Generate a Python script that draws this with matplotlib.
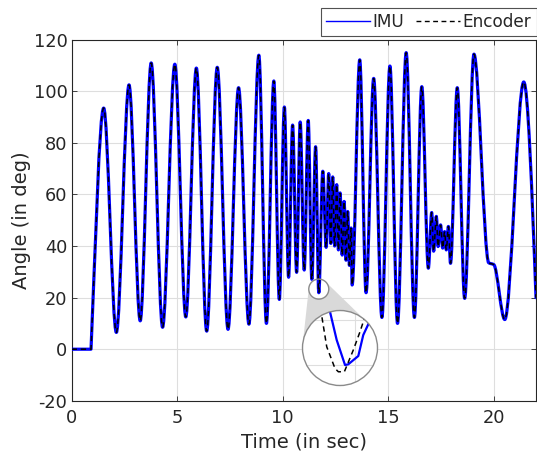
import numpy as np
import matplotlib
matplotlib.use("Agg")
import matplotlib.pyplot as plt
from matplotlib.path import Path
from matplotlib.patches import PathPatch, Circle, Polygon
from matplotlib.lines import Line2D
from matplotlib.transforms import IdentityTransform

# ---------------- data (turning points) ----------------
time_pts = [0.00, 0.92, 1.52, 2.12, 2.72, 3.25, 3.77, 4.31, 4.89, 5.41, 5.91, 6.40,
            6.90, 7.41, 7.91, 8.40, 8.87, 9.23, 9.58, 9.84, 10.08, 10.28, 10.47, 10.66,
            10.83, 11.02, 11.21, 11.38, 11.56, 11.71, 11.90, 12.06, 12.18, 12.28, 12.37,
            12.46, 12.56, 12.64, 12.72, 12.82, 12.91, 13.00, 13.08, 13.16, 13.24, 13.29,
            13.65, 13.95, 14.31, 14.70, 15.08, 15.44, 15.85, 16.24, 16.59, 16.90, 17.06,
            17.15, 17.28, 17.36, 17.48, 17.58, 17.67, 17.75, 17.85, 17.95, 18.27, 18.62,
            19.06, 19.76, 20.00, 20.52, 21.42, 22.00]
imu_angle = [0, 0, 93.5, 6.5, 102.5, 11.0, 111.0, 8.5, 110.5, 12.5, 109.0, 7.0,
             109.3, 7.7, 101.4, 9.7, 114.0, 10.0, 104.0, 19.3, 93.9, 27.9, 86.9, 29.8,
             88.1, 30.7, 88.7, 27.1, 78.5, 21.9, 69.0, 39.5, 68.1, 41.0, 66.8,
             40.0, 63.8, 38.5, 60.6, 36.5, 57.3, 34.5, 53.4, 32.5, 47.0, 24.9,
             112.2, 21.9, 105.0, 12.3, 109.8, 10.0, 115.0, 12.3, 101.8, 31.4, 53.0,
             38.0, 51.5, 39.8, 48.2, 39.2, 45.6, 38.5, 47.6, 33.3, 101.4, 19.7,
             114.4, 33.5, 32.8, 11.5, 103.6, 20.0]
encoder_angle = list(imu_angle)

# magnified view of the dip near t = 11.7 s
inset_t_imu = [11.684, 11.6956, 11.7067, 11.711, 11.7244, 11.731, 11.7387, 11.744]
inset_imu = [22.74, 21.11, 20.00, 20.03, 20.40, 21.33, 21.88, 22.30]
inset_t_enc = [11.674, 11.6823, 11.6933, 11.6978, 11.7058, 11.7178, 11.7267, 11.7333, 11.7356]
inset_enc = [22.52, 20.81, 19.85, 19.70, 19.70, 20.67, 21.48, 22.15, 22.45]
inset_xlim = (11.65, 11.75)
inset_ylim = (19.09, 22.42)
inset_grid_y = [20, 22]
inset_grid_x = [11.72]
zoom_focus = (11.71, 23.3)

x_ticks = [0, 5, 10, 15, 20]
y_ticks = [-20, 0, 20, 40, 60, 80, 100, 120]
series_labels = ["IMU", "Encoder"]


def smooth_path(x, y):
    x = np.asarray(x, float)
    y = np.asarray(y, float)
    h = np.diff(x)
    d = np.diff(y) / h
    n = len(x)
    mL = np.zeros(n)  # slope arriving at a point
    mR = np.zeros(n)  # slope leaving a point
    for k in range(1, n - 1):
        if d[k - 1] == 0 and d[k] != 0:
            mL[k] = 0.0
            mR[k] = 1.2 * d[k]
        elif d[k - 1] * d[k] > 0:
            w1 = 2 * h[k] + h[k - 1]
            w2 = h[k] + 2 * h[k - 1]
            mL[k] = mR[k] = (w1 + w2) / (w1 / d[k - 1] + w2 / d[k])
    mL[-1] = 1.5 * d[-1]
    verts = [(x[0], y[0])]
    codes = [Path.MOVETO]
    for k in range(n - 1):
        verts += [(x[k] + h[k] / 3, y[k] + mR[k] * h[k] / 3),
                  (x[k + 1] - h[k] / 3, y[k + 1] - mL[k + 1] * h[k] / 3),
                  (x[k + 1], y[k + 1])]
        codes += [Path.CURVE4] * 3
    return Path(verts, codes)


TXT = "#262626"
GRID = "#dedede"
plt.rcParams["font.family"] = ["DejaVu Sans"]
plt.rcParams["axes.unicode_minus"] = False

W, H = 537, 458
fig = plt.figure(figsize=(W / 100, H / 100), dpi=100)
ax = fig.add_axes([71.6 / W, 1 - 400.8 / H, (536.0 - 71.6) / W, (400.8 - 39.7) / H])
ax.set_xlim(0, 22)
ax.set_ylim(-20, 120)
ax.set_xticks(x_ticks)
ax.set_yticks(y_ticks)
ax.grid(True, color=GRID, lw=0.8)
ax.set_axisbelow(True)
ax.tick_params(direction="in", length=3.5, width=0.6, top=True, right=True,
               colors=TXT, labelsize=12.8, labelcolor=TXT)
ax.tick_params(axis="x", pad=6)
ax.tick_params(axis="y", pad=3)
for s in ax.spines.values():
    s.set_color(TXT)
    s.set_linewidth(0.8)
ax.set_xlabel("Time (in sec)", fontsize=14, color=TXT, labelpad=4)
ax.set_ylabel("Angle (in deg)", fontsize=14, color=TXT, labelpad=2)

imu_patch = PathPatch(smooth_path(time_pts, imu_angle), fill=False, edgecolor="#0000ff",
                      lw=2.3, zorder=3, joinstyle="round", capstyle="round")
enc_patch = PathPatch(smooth_path(time_pts, encoder_angle), fill=False, edgecolor="black",
                      lw=1.1, linestyle=(0, (3.5, 2.5)), zorder=4)
ax.add_patch(imu_patch)
ax.add_patch(enc_patch)

# inset axes (circular magnifier)
cx_big, cy_big, r_big = 340.0, 348.0, 37.5
axin = fig.add_axes([(cx_big - r_big) / W, 1 - (cy_big + r_big) / H, 2 * r_big / W, 2 * r_big / H])
axin.set_xlim(*inset_xlim)
axin.set_ylim(*inset_ylim)
axin.axis("off")
bg = Circle((0.5, 0.5), 0.5, transform=axin.transAxes, facecolor="white",
            edgecolor="none", zorder=0)
axin.add_patch(bg)
clipc = Circle((0.5, 0.5), 0.5, transform=axin.transAxes, facecolor="none", edgecolor="none")
axin.add_patch(clipc)
for gy in inset_grid_y:
    l = axin.axhline(gy, color=GRID, lw=0.8, zorder=1)
    l.set_clip_path(clipc)
for gx in inset_grid_x:
    l = axin.axvline(gx, color=GRID, lw=0.8, zorder=1)
    l.set_clip_path(clipc)
l1, = axin.plot(inset_t_imu, inset_imu, color="#0000ff", lw=1.6, zorder=3)
l2, = axin.plot(inset_t_enc, inset_enc, color="black", lw=1.1, ls=(0, (3.5, 2.5)), zorder=4)
l1.set_clip_path(clipc)
l2.set_clip_path(clipc)
ring = Circle((0.5, 0.5), 0.5, transform=axin.transAxes, facecolor="none",
              edgecolor="#8a8a8a", lw=1.0, zorder=5, clip_on=False)
axin.add_patch(ring)

# cone + small circle in display coords
p1 = ax.transData.transform(zoom_focus)
p2 = axin.transAxes.transform((0.5, 0.5))
r1 = 10.0
r2 = r_big
dvec = p2 - p1
dist = np.hypot(*dvec)
theta = np.arctan2(dvec[1], dvec[0])
phi = np.arccos((r1 - r2) / dist)
a1, a2 = theta + phi, theta - phi
P1a = p1 + r1 * np.array([np.cos(a1), np.sin(a1)])
P2a = p2 + r2 * np.array([np.cos(a1), np.sin(a1)])
P2b = p2 + r2 * np.array([np.cos(a2), np.sin(a2)])
arc = np.linspace(a2, a1, 30)
arc_pts = [p1 + r1 * np.array([np.cos(a), np.sin(a)]) for a in arc]
poly_pts = [P1a, P2a, p2, P2b] + arc_pts
cone = Polygon(poly_pts, closed=True, transform=IdentityTransform(), facecolor="#d9d9d9",
               edgecolor="none", zorder=2, clip_on=False)
ax.add_patch(cone)
small = Circle(p1, r1, transform=IdentityTransform(), facecolor="none", edgecolor="#8a8a8a",
               lw=1.0, zorder=5, clip_on=False)
ax.add_patch(small)

handles = [Line2D([], [], color="#0000ff", lw=1.0),
           Line2D([], [], color="black", lw=1.0, ls=(0, (3.5, 2.5)))]
leg = fig.legend(handles, series_labels, loc="lower right", ncol=2,
                 bbox_to_anchor=(536.5 / W, 1 - 35.7 / H), bbox_transform=fig.transFigure,
                 fontsize=12.2, frameon=True, fancybox=False, borderpad=0.3,
                 handlelength=2.6, handletextpad=0.15, columnspacing=0.7, borderaxespad=0)
leg.get_frame().set_edgecolor(TXT)
leg.get_frame().set_linewidth(0.8)
for t in leg.get_texts():
    t.set_color(TXT)

fig.savefig("out.png", dpi=100)
